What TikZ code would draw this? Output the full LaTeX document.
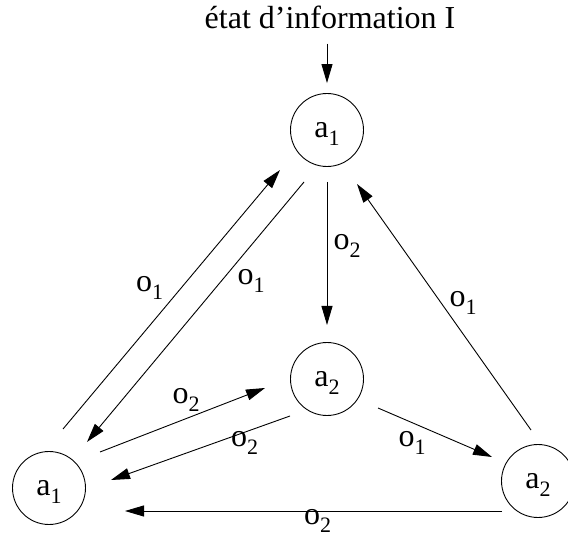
\documentclass[tikz,border=0pt]{standalone}
\usepackage{fontspec}
\setmainfont{Liberation Serif}
\usetikzlibrary{arrows.meta}
\newcommand{\sbs}[1]{\raisebox{-8pt}[0pt][0pt]{\fontsize{22}{22}\selectfont #1}}
\begin{document}
\begin{tikzpicture}[x=1pt,y=-1pt,
  st/.style={circle, draw, line width=0.9pt, minimum size=73pt, inner sep=0pt, font=\fontsize{32}{32}\selectfont},
  lbl/.style={font=\fontsize{32}{32}\selectfont, inner sep=0pt},
  ar/.style={-{Triangle[length=19pt,width=11pt]}, line width=0.9pt},
  ln/.style={line width=0.9pt}]
\useasboundingbox (0,0) rectangle (568,537);
\node[st] (t) at (327,130) {a\sbs{1}};
\node[st] (m) at (327,379) {a\sbs{2}};
\node[st] (bl) at (49,488) {a\sbs{1}};
\node[st] (br) at (538,481) {a\sbs{2}};
\node[lbl, anchor=base] (title) at (330,29) {état d’information I};
\draw[ar] ([shift={(0,14)}]title.south -| t) -- ([shift={(0,-10)}]t.north);
\draw[ar] ([shift={(14,-59)}]bl.center) -- ([shift={(-47,40)}]t.center);
\draw[ar] ([shift={(-23,52)}]t.center) -- ([shift={(38,-46)}]bl.center);
\draw[ar] ([shift={(0,52)}]t.center) -- ([shift={(0,-54)}]m.center);
\draw[ar] ([shift={(-7,-51)}]br.center) -- ([shift={(30,54)}]t.center);
\draw[ar] ([shift={(51,-36)}]bl.center) -- ([shift={(-62,9)}]m.center);
\draw[ar] ([shift={(-37,37)}]m.center) -- ([shift={(62,-8)}]bl.center);
\draw[ar] ([shift={(51,29)}]m.center) -- ([shift={(-46,-24)}]br.center);
\draw[ar] ([shift={(-36,30)}]br.center) -- ([shift={(76,23)}]bl.center);
\node[lbl] (l1) at (149.5,284) {o\sbs{1}};
\node[lbl] (l2) at (251,277) {o\sbs{1}};
\node[lbl] (l3) at (347,242) {o\sbs{2}};
\node[lbl] (l4) at (463,299) {o\sbs{1}};
\node[lbl] (l5) at (186,396) {o\sbs{2}};
\node[lbl] (l6) at (244.5,439) {o\sbs{2}};
\node[lbl] (l7) at (412,439) {o\sbs{1}};
\node[lbl] (l8) at (317.5,517.5) {o\sbs{2}};
\end{tikzpicture}
\end{document}
